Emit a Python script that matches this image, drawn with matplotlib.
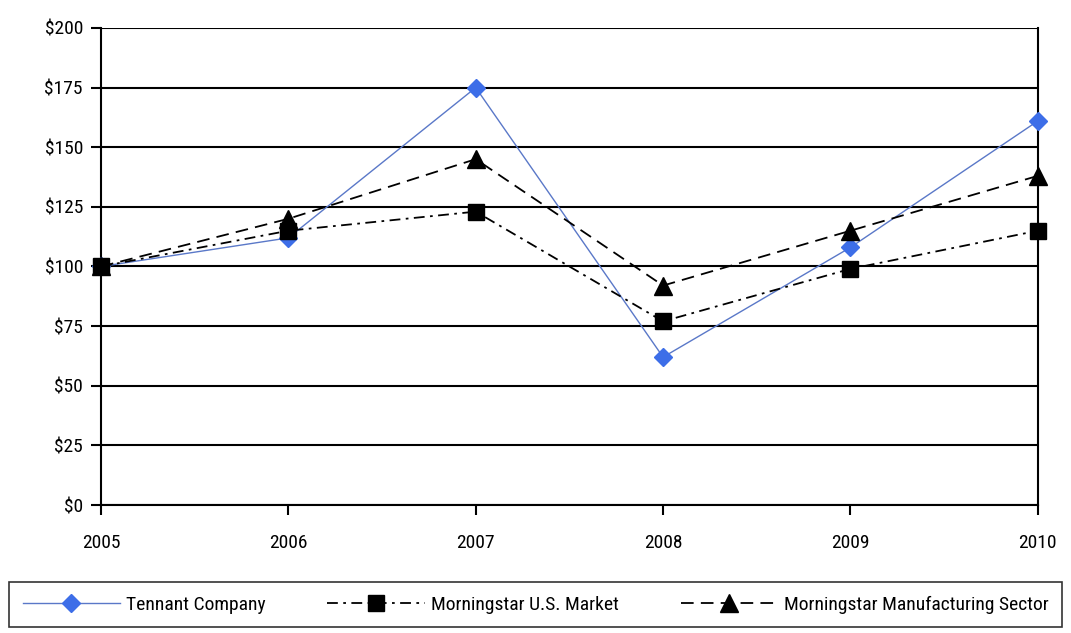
import matplotlib.pyplot as plt
from matplotlib import font_manager

years = [2005, 2006, 2007, 2008, 2009, 2010]
tennant = [100, 112, 175, 62, 108, 161]
market = [100, 115, 123, 77, 99, 115]
manufacturing = [100, 120, 145, 92, 115, 138]
yticks = [0, 25, 50, 75, 100, 125, 150, 175, 200]

# narrow font if we have one
names = set(f.name for f in font_manager.fontManager.ttflist)
for cand in ['Liberation Sans Narrow', 'DejaVu Sans Condensed', 'Roboto Condensed', 'DejaVu Sans']:
    if cand in names:
        plt.rcParams['font.family'] = [cand, 'DejaVu Sans']
        break

fig = plt.figure(figsize=(10.71, 6.33), dpi=100)
ax = fig.add_axes([0.0943, 0.2022, 0.8747, 0.7536])

for y in yticks:
    ax.axhline(y, color='black', lw=1.5, zorder=1)

ax.plot(years, tennant, color='#5a78c8', lw=1, marker='D', ms=9,
        mfc='#3d6ee8', mec='#3d6ee8', label='Tennant Company', zorder=3, clip_on=False)
ax.plot(years, market, color='black', lw=1.3, ls=(0, (6, 3, 1.5, 3)), marker='s', ms=12,
        label='Morningstar U.S. Market', zorder=3, clip_on=False)
ax.plot(years, manufacturing, color='black', lw=1.3, ls=(0, (7, 4)), marker='^', ms=13,
        label='Morningstar Manufacturing Sector', zorder=3, clip_on=False)

ax.set_xlim(2005, 2010)
ax.set_ylim(0, 200)
ax.set_xticks(years)
ax.set_yticks(yticks)
ax.set_yticklabels(['$%d' % v for v in yticks])
ax.tick_params(axis='both', labelsize=14, length=7, width=1.5, color='black')
ax.tick_params(axis='x', pad=14)
ax.tick_params(axis='y', pad=6)

ax.spines['top'].set_visible(False)
for s in ['left', 'right', 'bottom']:
    ax.spines[s].set_linewidth(1.5)

leg = fig.legend(loc='center', ncol=3, fontsize=14,
                 frameon=True, fancybox=False, edgecolor='black', handlelength=5,
                 handletextpad=0.3, columnspacing=3.2, borderpad=0.7,
                 bbox_to_anchor=(0.5, 0.045))
leg.get_frame().set_linewidth(1.2)

fig.savefig('out.png', dpi=100)
